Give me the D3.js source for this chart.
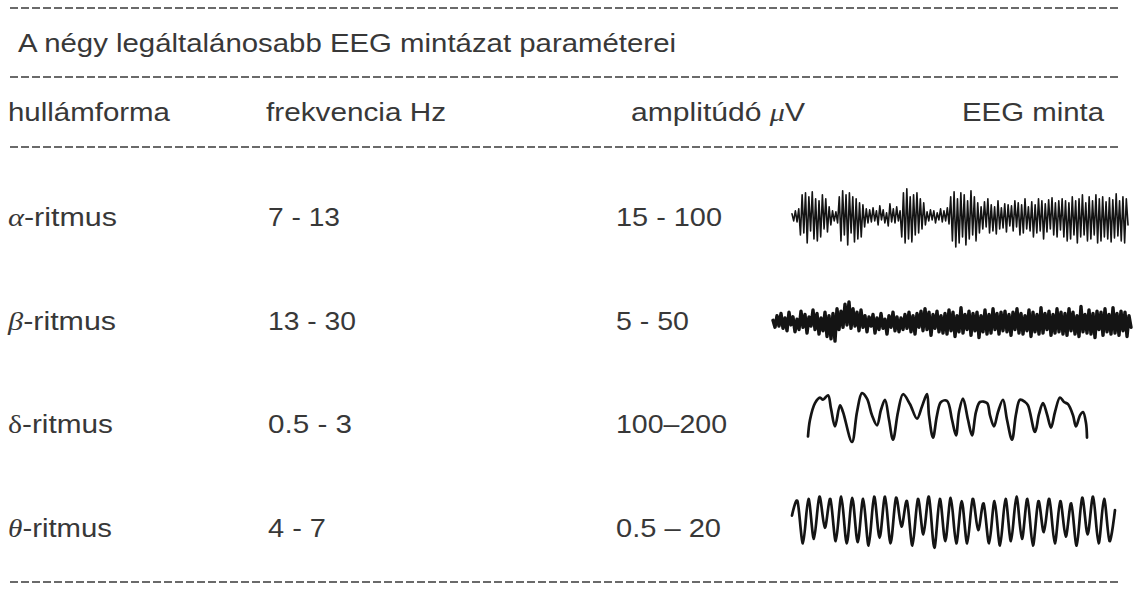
<!DOCTYPE html>
<html>
<head>
<meta charset="utf-8">
<script src="https://cdn.jsdelivr.net/npm/d3@7"></script>
<style>
  html, body { margin: 0; padding: 0; background: #ffffff; }
  svg { display: block; }
  text { font-family: "Liberation Sans", Arial, sans-serif; fill: #383838; }
</style>
</head>
<body>
<script>
// ---------------- DATA ----------------
const title = "A négy legáltalánosabb EEG mintázat paraméterei";
const headers = ["hullámforma", "frekvencia Hz", "amplitúdó ", "EEG minta"];
const greek = ["α", "β", "δ", "θ"];
const greekItalic = [true, true, false, true];
const rhythmSuffix = "-ritmus";
const frequencies = ["7 - 13", "13 - 30", "0.5 - 3", "4 - 7"];
const amplitudes = ["15 - 100", "5 - 50", "100–200", "0.5 – 20"];

// EEG samples (relative amplitude, positive = up)
const waveAlpha = [3,-4,6,-5,8,
  -18,22,-16,24,-26,20,-14,25,-22,18,-24,16,-20,22,-12,18,-15,10,-8,
  6,-4,5,-6,
  20,-24,26,-18,22,-28,24,-16,20,-25,18,-22,14,-20,12,-10,8,-6,
  7,-5,9,-4,6,-8,11,-3,7,-6,4,-9,13,-5,8,-6,10,-4,6,
  -20,24,-26,28,-22,20,-25,22,-18,24,-16,18,-12,14,-8,
  5,-4,7,-3,6,-6,4,-3,8,-5,6,-4,9,-7,
  20,-24,25,-30,18,-26,24,-20,22,-28,16,-22,26,-18,20,-24,14,-16,10,
  -12,15,-10,18,-16,12,-14,10,-17,16,-12,9,-11,13,-15,12,-9,11,
  -14,16,-10,14,-18,12,-16,18,-12,10,-14,15,-20,12,-16,18,-14,16,-22,13,-15,17,-12,19,-18,14,-20,16,-13,
  18,-20,16,-24,14,-22,20,-18,16,-26,18,-20,22,-18,14,-24,20,-22,16,-18,22,-26,18,-24,20,-20,15,-22,19,-25,17,-21,23,-19,16,-24,20,-26,18,-8];

const waveBeta = [2,-4,6,-3,8,-5,4,-7,9,-2,5,-8,3,-6,
  10,-4,7,-9,5,-3,11,-6,8,-10,4,-7,9,-12,6,-14,
  8,-16,12,-6,10,-4,16,-2,18,-5,12,-3,9,-7,11,-4,
  6,-8,5,-3,7,-9,4,-6,8,-5,3,-10,6,-4,9,-7,5,-8,4,-6,
  7,-5,9,-8,6,-10,8,-4,10,-7,12,-6,9,-11,7,-5,10,-8,6,-9,
  8,-10,11,-7,9,-12,6,-8,13,-9,7,-6,10,-11,8,-7,9,-13,6,-8,11,-10,7,-9,12,-6,8,-10,9,-7,
  10,-8,7,-11,9,-6,12,-9,8,-10,6,-7,11,-12,9,-8,7,-10,13,-9,8,-6,10,-11,7,-9,12,-8,9,-10,
  8,-11,12,-7,9,-10,6,-12,14,-8,7,-9,11,-10,8,-13,10,-6,9,-11,12,-8,7,-10,13,-9,8,-11,10,-7,9,-12,6,-4];

const deltaTime = [0,2,7,12,15,20,23,27,32,35,44,49,54,59,64,69,73,77,81,85,
  90,95,102,109,114,119,121,125,129,133,139,144,148,151,155,160,164,168,172,179,
  182,186,190,195,199,204,208,212,217,220,227,231,235,239,243,247,252,256,260,265,
  268,272,275,278,279];
const deltaAmp = [-14,1,16,21,19,23,11,-5,14,8,-19,8,25,20,5,-4,10,19,1,-17,
  8,24,15,2,13,24,5,-15,5,17,18,1,-13,8,20,1,-13,8,17,16,
  5,-5,8,19,1,-17,6,19,17,14,-10,6,16,6,-6,8,21,17,15,5,
  -5,5,8,-2,-15];

const waveTheta = [5,18,-20,20,-16,22,-6,20,-18,22,-20,21,-19,20,-22,22,-15,22,-20,21,
  -5,18,-22,20,-12,22,-24,20,-18,21,-20,18,-20,20,-8,16,-20,18,-22,20,
  -18,22,-16,20,-22,18,-10,20,-20,18,-14,16,-22,21,-12,22,-20,20,-18,10];

// ---------------- LAYOUT ----------------
const W = 1135, H = 595;
const svg = d3.select("body").append("svg").attr("width", W).attr("height", H);
svg.append("rect").attr("width", W).attr("height", H).attr("fill", "#fff");

const rules = [8, 77, 147, 582];
svg.selectAll("line.rule").data(rules).join("line")
  .attr("class", "rule")
  .attr("x1", 10).attr("x2", 1121)
  .attr("y1", d => d).attr("y2", d => d)
  .attr("stroke", "#3a3a3a").attr("stroke-width", 1.5)
  .attr("stroke-dasharray", "8,3");

function fitText(sel, width) {
  sel.attr("textLength", width).attr("lengthAdjust", "spacingAndGlyphs");
}

// title
svg.append("text").attr("x", 18).attr("y", 52).attr("font-size", 25)
  .text(title).call(fitText, 658);

// headers
const headerX = [8, 266, 631, 962];
const headerW = [162, 180, 174, 142];
headers.forEach((h, i) => {
  const t = svg.append("text").attr("x", headerX[i]).attr("y", 121).attr("font-size", 25);
  t.append("tspan").text(h);
  if (i === 2) {
    t.append("tspan").attr("font-family", "'Liberation Serif', serif").attr("font-style", "italic").text("μ");
    t.append("tspan").text("V");
  }
  t.call(fitText, headerW[i]);
});

// rows
const rowIdx = d3.range(greek.length);
const yRow = d3.scaleBand().domain(rowIdx).range([165, 580]);
const rowCenter = i => yRow(i) + yRow.bandwidth() / 2;

const labelW = [109, 108, 105, 104];
const freqW = [72, 88, 84, 58];
const ampW = [106, 73, 111, 105];

rowIdx.forEach(i => {
  const base = rowCenter(i) + 9;
  const t = svg.append("text").attr("x", 8).attr("y", base).attr("font-size", 26);
  t.append("tspan")
    .attr("font-family", "'Liberation Serif', serif")
    .attr("font-style", greekItalic[i] ? "italic" : "normal")
    .text(greek[i]);
  t.append("tspan").text(rhythmSuffix);
  t.call(fitText, labelW[i]);

  svg.append("text").attr("x", 268).attr("y", base).attr("font-size", 26)
    .text(frequencies[i]).call(fitText, freqW[i]);
  svg.append("text").attr("x", 616).attr("y", base).attr("font-size", 26)
    .text(amplitudes[i]).call(fitText, ampW[i]);
});

// waves
function drawWave(xs, ys, x0, x1, cy, span, curve, sw) {
  const x = d3.scaleLinear().domain(d3.extent(xs)).range([x0, x1]);
  const y = d3.scaleLinear().domain([-span, span]).range([cy + 30, cy - 30]);
  const line = d3.line().x((d, i) => x(xs[i])).y(d => y(d)).curve(curve);
  svg.append("path").datum(ys).attr("d", line)
    .attr("fill", "none").attr("stroke", "#141414").attr("stroke-width", sw)
    .attr("stroke-linejoin", "round").attr("stroke-linecap", "round");
}

drawWave(d3.range(waveAlpha.length), waveAlpha, 792, 1128, rowCenter(0), 30, d3.curveLinear, 1.6);
drawWave(d3.range(waveBeta.length), waveBeta, 773, 1131, rowCenter(1) + 2, 26, d3.curveLinear, 3.4);
drawWave(deltaTime, deltaAmp, 808, 1087, rowCenter(2) - 3.5, 27, d3.curveCatmullRom.alpha(0.5), 2.7);
drawWave(d3.range(waveTheta.length), waveTheta, 792, 1115, rowCenter(3) - 7, 27, d3.curveCardinal.tension(0.1), 2.7);
</script>
</body>
</html>
